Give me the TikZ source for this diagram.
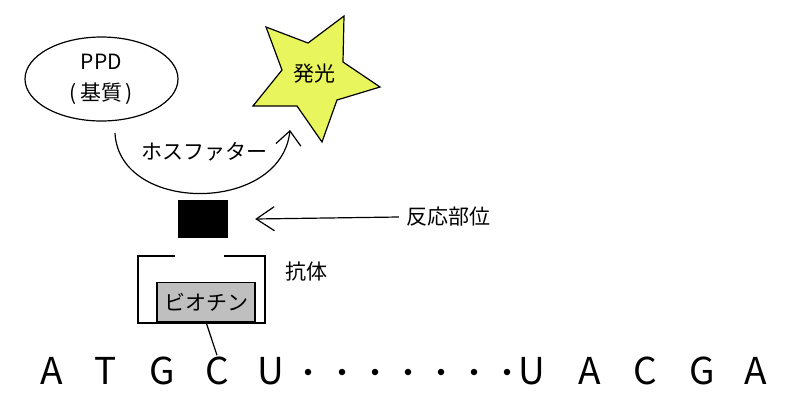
\documentclass[tikz,border=0pt]{standalone}
\usepackage{fontspec}
\setmainfont{Noto Sans CJK JP}
\usetikzlibrary{shapes.geometric,arrows.meta}
\definecolor{staryellow}{RGB}{232,245,92}
\definecolor{biogray}{RGB}{191,191,191}
\tikzset{
  jp/.style={font=\fontsize{21}{31}\selectfont, inner sep=0pt},
  seqletter/.style={font=\fontsize{37}{37}\selectfont, inner sep=0pt, anchor=base},
  ln/.style={line width=1.2pt, black},
  barbbig/.style={ln, -{Straight Barb[length=18pt,width=24pt,line width=1.2pt]}},
  barbsmall/.style={ln, -{Straight Barb[length=14pt,width=25pt,line width=1.2pt]}},
  seqdot/.style={circle, fill=black, inner sep=0pt, minimum size=6.5pt}
}
\begin{document}
\begin{tikzpicture}[x=1pt,y=-1pt]
\useasboundingbox (0,0) rectangle (787,402);
% substrate ellipse
\node[ln, draw, ellipse, minimum width=153pt, minimum height=84pt, inner sep=0pt, jp, align=center] (ppd) at (101.5,79) {PPD\\(\,基質\,)};
% star
\draw[ln, fill=staryellow, line join=miter]
  (266,27) -- (308,43) -- (344,16) -- (343,62) -- (380,87) -- (337,100)
  -- (322,142) -- (297,106) -- (253,106) -- (282,70) -- cycle;
\node[jp] (hk) at (314,74) {発光};
% phosphatase arc
\coordinate (arcs) at (115,133);
\coordinate (arce) at (290,130);
\draw[barbsmall] (arcs) .. controls (119,214) and (281,214) .. (arce);
\node[jp] (phos) at (204,152) {ホスファター};
% reactive site
\node[fill=black, minimum width=50pt, minimum height=38pt, inner sep=0pt] (blk) at (203,219) {};
\node[jp] (rb) at (448,217) {反応部位};
\draw[barbbig] ([xshift=-7pt]rb.west) -- ([xshift=27pt]blk.east);
% antibody
\draw[ln] (175,256) -- (138,256) -- (138,323) -- (265,323) -- (265,256) -- (224,256);
\node[jp] (ab) at (306,272) {抗体};
\node[ln, draw, fill=biogray, minimum width=98pt, minimum height=39pt, inner sep=0pt, jp] (bio) at (206,302) {ビオチン};
% sequence
\foreach \nm/\ch/\xx in {a1/A/52, t1/T/106, g1/G/162, c1/C/217, u1/U/271,
                         u2/U/532, a2/A/590, c2/C/645, g2/G/702, a3/A/756}
  \node[seqletter] (\nm) at (\xx,384) {\ch};
\foreach \i/\xx in {1/308, 2/342, 3/375, 4/408, 5/441, 6/474, 7/507}
  \node[seqdot] (d\i) at (\xx,372) {};
\draw[ln] (bio.south) -- ([yshift=1pt]c1.north);
\end{tikzpicture}
\end{document}
